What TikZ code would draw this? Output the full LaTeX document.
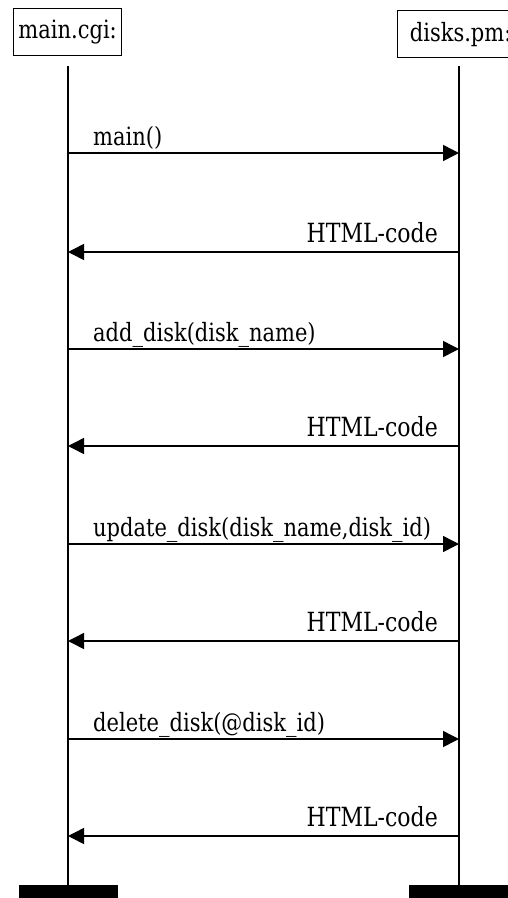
\documentclass[tikz,border=0pt]{standalone}
\usepackage{fontspec}
\setmainfont{DejaVu Serif}
\usetikzlibrary{arrows.meta}
\newcommand{\tallt}[1]{\scalebox{1}[1.2]{#1}}
\begin{document}
\begin{tikzpicture}[x=1pt,y=-1pt,
  obj/.style={draw,line width=1.3pt,inner sep=0pt,font=\fontsize{21}{21}\selectfont,anchor=north west,minimum height=47pt},
  life/.style={line width=1.5pt},
  msg/.style={line width=1.5pt,-{Triangle[length=16pt,width=16pt]}},
  lbl/.style={font=\fontsize{21}{21}\selectfont,inner sep=0pt},
  ret/.style={font=\fontsize{22}{22}\selectfont,inner sep=0pt},
  bar/.style={fill=black}]
\useasboundingbox (0,0) rectangle (508,898);
\node[obj,minimum width=108pt] (mc) at (13,8) {\tallt{main.cgi:}};
\node[obj,minimum width=120pt,anchor=north west] (dp) at (397,10) {\hspace*{6pt}\tallt{disks.pm:}\hfill};
\coordinate (Lt) at (68,66); \coordinate (Lb) at (68,885);
\coordinate (Rt) at (459,66); \coordinate (Rb) at (459,885);
\draw[life] (Lt) -- (Lb);
\draw[life] (Rt) -- (Rb);
\fill[bar] (19,885) rectangle (118,898);
\fill[bar] (409,885) rectangle (508,898);
\foreach \y/\t [count=\i] in {153/{main()},349/{add\_disk(disk\_name)},544/{update\_disk(disk\_name,disk\_id)},739/{delete\_disk(@disk\_id)}}{
  \coordinate (a\i) at (68,\y); \coordinate (b\i) at (459,\y);
  \draw[msg] (a\i) -- (b\i);
  \node[lbl,anchor=base west] (m\i) at (93,\y-8) {\tallt{\t}};
}
\foreach \y [count=\i] in {252,446,641,836}{
  \coordinate (c\i) at (459,\y); \coordinate (d\i) at (68,\y);
  \draw[msg] (c\i) -- (d\i);
  \node[ret,anchor=base east] (r\i) at (438,\y-10) {\tallt{HTML-code}};
}
\end{tikzpicture}
\end{document}
